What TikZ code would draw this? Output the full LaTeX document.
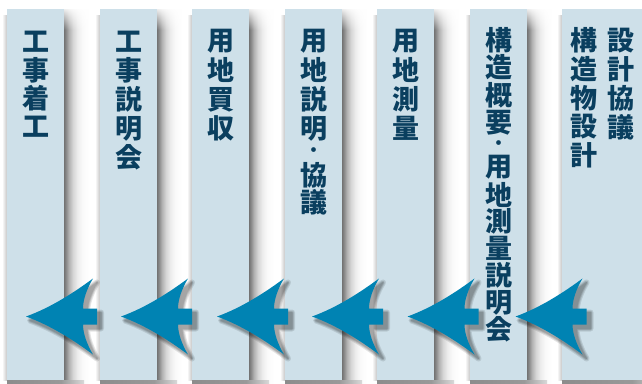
\documentclass[tikz,border=0pt]{standalone}
\usepackage{fontspec}
\newfontfamily\jp{Noto Sans CJK JP}
\usetikzlibrary{fadings}
\definecolor{colfill}{HTML}{CEE0E9}
\definecolor{txt}{HTML}{0A3F5F}
\definecolor{arr}{HTML}{0083B3}
\pgfdeclarehorizontalshading{rshadow}{100bp}{color(0bp)=(black!55); color(25bp)=(black!55); color(29bp)=(black!46); color(35bp)=(black!30); color(43bp)=(black!16); color(52bp)=(black!7); color(62bp)=(black!2); color(75bp)=(white); color(100bp)=(white)}
\pgfdeclarehorizontalshading{lshadow}{100bp}{color(0bp)=(white); color(25bp)=(white); color(75bp)=(black!22); color(100bp)=(black!22)}
\pgfdeclarehorizontalshading{bshadow}{100bp}{color(0bp)=(black!45); color(25bp)=(black!45); color(60bp)=(black!40); color(75bp)=(black!15); color(100bp)=(black!15)}
\tikzfading[name=topfade, top color=transparent!0, bottom color=transparent!100]
\newcommand\myarrowpath{(0,0) .. controls (25,-9) and (48,-24) .. (67,-38)
    .. controls (61,-28) and (57,-17) .. (57,-8)
    -- (71,-8) -- (71,8) -- (57,8)
    .. controls (57,17) and (61,28) .. (67,38)
    .. controls (48,24) and (25,9) .. (0,0) -- cycle}
\begin{document}
\begin{tikzpicture}[x=1pt,y=-1pt,
  colbox/.style={rectangle, fill=colfill, inner sep=0pt, minimum width=57pt, minimum height=371pt},
  ch/.style={inner sep=0pt, text=txt, font=\jp\bfseries\fontsize{27}{27}\selectfont},
  dotch/.style={inner sep=0pt, text=txt, font=\jp\bfseries\fontsize{17}{17}\selectfont},
  arrowshape/.style={fill=arr, draw=none},
  shadowlayer/.style={fill=black, draw=black, line join=round, line width=#1}]
\fill[white] (0,0) rectangle (642,383);
\useasboundingbox (0,0) rectangle (642,383);
% column shadows
\foreach \L/\R in {7/64,100/157,192/249,285/342,377/434,470/527,562/642}{
  \shade[shading=lshadow] (\L-5,15) rectangle (\L,380);
  \shade[shading=rshadow] (\R,9) rectangle (\R+25,383);
  \fill[white, path fading=topfade] (\R-1,6) rectangle (\R+27,30);
  \shade[shading=bshadow] (\L,380) rectangle (\R+20,383);
}
% columns
\node[colbox] (c1) at (35.5,194.5) {};
\node[colbox] (c2) at (128.5,194.5) {};
\node[colbox] (c3) at (220.5,194.5) {};
\node[colbox] (c4) at (313.5,194.5) {};
\node[colbox] (c5) at (405.5,194.5) {};
\node[colbox] (c6) at (498.5,194.5) {};
\node[colbox, minimum width=80pt] (c7) at (602,194.5) {};
% texts
\foreach \c/\yy [count=\i] in {工/41.5,事/70,着/98.5,工/127}
  \node[ch] (ta\i) at (35.5,\yy) {\c};
\foreach \c/\yy [count=\i] in {工/41.5,事/70.5,説/99.5,明/128.5,会/157}
  \node[ch] (tb\i) at (128.5,\yy) {\c};
\foreach \c/\yy [count=\i] in {用/41,地/70,買/99.5,収/128.5}
  \node[ch] (tc\i) at (220.5,\yy) {\c};
\foreach \c/\yy [count=\i] in {用/41,地/70,説/99.5,明/128.5,協/175,議/202}
  \node[ch] (td\i) at (313.5,\yy) {\c};
\node[dotch] (tddot) at (313.5,152) {・};
\foreach \c/\yy [count=\i] in {構/40.5,造/67.5,概/95,要/122.5,用/167.5,地/194.5,測/221.5,量/248.5,説/275.5,明/302.5,会/329.5}
  \node[ch] (tf\i) at (498.5,\yy) {\c};
\node[dotch] (tfdot) at (498.5,145.2) {・};
\foreach \c/\yy [count=\i] in {用/41,地/70,測/99.5,量/128.5}
  \node[ch] (te\i) at (405.5,\yy) {\c};
\foreach \c/\yy [count=\i] in {設/40.5,計/69.5,協/98.5,議/127.5}
  \node[ch] (tg\i) at (620.5,\yy) {\c};
\foreach \c/\yy [count=\i] in {構/40.5,造/69,物/98,設/127,計/155.5}
  \node[ch] (th\i) at (584,\yy) {\c};
% arrows with soft shadows
\foreach \ax in {26,121,217,312,407.5,515.5}{
  \foreach \w in {6,4,2.5,1}{
    \begin{scope}[transparency group, opacity=0.1]
      \path[shadowlayer=\w pt, shift={(\ax+4,320.5)}] \myarrowpath;
    \end{scope}
  }
  \path[arrowshape, shift={(\ax,316.5)}] \myarrowpath;
}
\end{tikzpicture}
\end{document}
